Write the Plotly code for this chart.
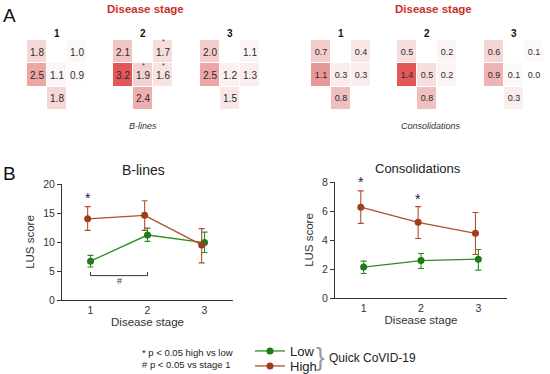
import plotly.graph_objects as go

W, H = 550, 374
FONT = "Arial, Liberation Sans, sans-serif"

# ---------------- data ----------------
stages = [1, 2, 3]
stage_labels = ["1", "2", "3"]

# Panel A heatmaps (3x3 lung zones, None = no zone)
blines_maps = [
    [[1.8, None, 1.0], [2.5, 1.1, 0.9], [None, 1.8, None]],
    [[2.1, None, 1.7], [3.2, 1.9, 1.6], [None, 2.4, None]],
    [[2.0, None, 1.1], [2.5, 1.2, 1.3], [None, 1.5, None]],
]
conso_maps = [
    [[0.7, None, 0.4], [1.1, 0.3, 0.3], [None, 0.8, None]],
    [[0.5, None, 0.2], [1.4, 0.5, 0.2], [None, 0.8, None]],
    [[0.6, None, 0.1], [0.9, 0.1, 0.0], [None, 0.3, None]],
]
# zones with star (stage 2, B-lines): (col,row)
blines_star_zones = [(2, 0), (1, 1), (2, 1)]

# Panel B line charts
blines_high = [14.0, 14.6, 9.5]
blines_high_up = [2.1, 2.5, 2.8]
blines_high_dn = [2.0, 2.6, 3.1]
blines_low = [6.7, 11.2, 9.9]
blines_low_up = [1.0, 1.2, 1.8]
blines_low_dn = [1.0, 1.1, 1.7]

conso_high = [6.26, 5.22, 4.46]
conso_high_up = [1.13, 1.08, 1.44]
conso_high_dn = [1.11, 1.12, 1.46]
conso_low = [2.13, 2.58, 2.68]
conso_low_up = [0.41, 0.49, 0.67]
conso_low_dn = [0.44, 0.55, 0.76]

blines_star_stage = [1]
blines_star_y = [17.6]
conso_star_stage = [1, 2]
conso_star_y = [8.0, 6.8]

bracket_x = [1, 1, 2, 2]
bracket_y = [4.8, 4.2, 4.2, 4.8]

# ---------------- helpers ----------------
def px(x):
    return x / W


def py(y):
    return 1 - y / H


HIGH_C = "#b0502a"
HIGH_M = "#a33c1c"
LOW_C = "#2e8b22"
LOW_M = "#1f7a1a"
TITLE_RED = "#c8302a"

cscale = [[0, "#ffffff"], [0.3, "#f9e6e6"], [0.5, "#f3cdcd"], [0.7, "#eca8a8"],
          [0.85, "#e78a8a"], [1, "#e25858"]]

fig = go.Figure()
layout = dict(
    width=W, height=H, margin=dict(l=0, r=0, t=0, b=0, autoexpand=False),
    paper_bgcolor="white", plot_bgcolor="white",
    font=dict(family=FONT, color="#222"),
    showlegend=True,
)
annotations = []


def note(x, y, text, size, color="#222", xanchor="center", ref=("paper", "paper"), **kw):
    d = dict(x=x, y=y, xref=ref[0], yref=ref[1], text=text, showarrow=False,
             xanchor=xanchor, yanchor="middle", font=dict(size=size, color=color, family=FONT))
    d.update(kw)
    annotations.append(d)


# heatmap axes pixel boxes
hm_boxes = [(27, 87), (113, 173), (200, 260), (311, 371), (397, 457), (484, 544)]
hm_top, hm_bot = 40, 110

maps = blines_maps + conso_maps
for i, z in enumerate(maps):
    ax = i + 1
    xa = "x" if ax == 1 else f"x{ax}"
    ya = "y" if ax == 1 else f"y{ax}"
    is_b = i < 3
    fig.add_trace(go.Heatmap(
        z=z, x=[0, 1, 2], y=[0, 1, 2], xaxis=xa, yaxis=ya,
        colorscale=cscale, zmin=0.8 if is_b else 0.0, zmax=3.2 if is_b else 1.4,
        showscale=False, xgap=1, ygap=1, hoverinfo="skip",
        texttemplate="%{z:.1f}", textfont=dict(size=10 if is_b else 9, color="#2a2a2a", family=FONT),
        showlegend=False,
    ))
    x0, x1 = hm_boxes[i]
    key = "" if ax == 1 else str(ax)
    layout[f"xaxis{key}"] = dict(domain=[px(x0), px(x1)], range=[-0.5, 2.5], visible=False,
                                 anchor=ya, fixedrange=True)
    layout[f"yaxis{key}"] = dict(domain=[py(hm_bot), py(hm_top)], range=[2.5, -0.5], visible=False,
                                 anchor=xa, fixedrange=True)
    note(px((x0 + x1) / 2), py(33), f"<b>{stage_labels[i % 3]}</b>", 10, "#111")

# stars in stage-2 B-lines map
for (c, r) in blines_star_zones:
    note(c, r, "*", 7, "#333", ref=("x2", "y2"), yshift=10)

# Panel A texts
note(px(9), py(15), "A", 19, "#111")
note(px(145), py(9), "<b>Disease stage</b>", 11.5, TITLE_RED)
note(px(433), py(9), "<b>Disease stage</b>", 11.5, TITLE_RED)
note(px(143), py(126), "<i>B-lines</i>", 9, "#333")
note(px(431), py(126), "<i>Consolidations</i>", 9, "#333")
note(px(9), py(173), "B", 19, "#111")

# ---------------- line charts ----------------
DODGE = 0.05


def add_series(xa, ya, vals, up, dn, color, mcolor, name, show, offset, legend):
    fig.add_trace(go.Scatter(
        x=[s + offset for s in stages], y=vals, xaxis=xa, yaxis=ya,
        mode="lines+markers", name=name, showlegend=show, legend=legend,
        line=dict(color=color, width=1.3),
        marker=dict(color=mcolor, size=7),
        error_y=dict(type="data", array=up, arrayminus=dn, color=color, thickness=1.1, width=3),
        hoverinfo="skip",
    ))


add_series("x7", "y7", blines_low, blines_low_up, blines_low_dn, LOW_C, LOW_M, "Low", True, 0.0, "legend")
add_series("x7", "y7", blines_high, blines_high_up, blines_high_dn, HIGH_C, HIGH_M, "High", True, -DODGE, "legend2")
add_series("x8", "y8", conso_low, conso_low_up, conso_low_dn, LOW_C, LOW_M, "Low", False, 0.0, "legend")
add_series("x8", "y8", conso_high, conso_high_up, conso_high_dn, HIGH_C, HIGH_M, "High", False, -DODGE, "legend2")

# bracket for "#"
fig.add_trace(go.Scatter(x=bracket_x, y=bracket_y, xaxis="x7", yaxis="y7", mode="lines",
                         line=dict(color="#333", width=1), showlegend=False, hoverinfo="skip"))
note(1.5, 3.3, "#", 9, "#333", ref=("x7", "y7"))
for s, yv in zip(blines_star_stage, blines_star_y):
    note(s - DODGE, yv, "*", 14, "#222", ref=("x7", "y7"))
for s, yv in zip(conso_star_stage, conso_star_y):
    note(s - DODGE, yv, "*", 14, "#222", ref=("x8", "y8"))

axis_common = dict(showline=True, linecolor="#333", linewidth=1, showgrid=False, zeroline=False,
                   tickfont=dict(size=10.5, color="#333", family=FONT), fixedrange=True)

layout["xaxis7"] = dict(axis_common, domain=[px(62), px(233)], range=[0.5, 3.5], anchor="y7",
                        tickvals=stages, ticktext=stage_labels, ticks="",
                        title=dict(text="Disease stage", font=dict(size=11.5, color="#333"), standoff=0))
layout["yaxis7"] = dict(axis_common, domain=[py(300), py(184)], range=[0, 20], anchor="x7",
                        tickvals=[0, 5, 10, 15, 20], ticks="outside", ticklen=4, tickcolor="#333",
                        title=dict(text="LUS score", font=dict(size=11.5, color="#333"), standoff=6))
layout["xaxis8"] = dict(axis_common, domain=[px(335), px(507)], range=[0.5, 3.5], anchor="y8",
                        tickvals=stages, ticktext=stage_labels, ticks="",
                        title=dict(text="Disease stage", font=dict(size=11.5, color="#333"), standoff=0))
layout["yaxis8"] = dict(axis_common, domain=[py(298), py(182)], range=[0, 8], anchor="x8",
                        tickvals=[0, 2, 4, 6, 8], ticks="outside", ticklen=4, tickcolor="#333",
                        title=dict(text="LUS score", font=dict(size=11.5, color="#333"), standoff=6))

note(px(143), py(170), "B-lines", 14, "#222")
note(px(418), py(168), "Consolidations", 13, "#222")
note(px(140), py(352), "* p < 0.05 high vs low", 9.5, "#222", xanchor="left")
note(px(140), py(364), "# p < 0.05 vs stage 1", 9.5, "#222", xanchor="left")
note(px(320), py(357), "}", 26, "#999")
note(px(327), py(358), "Quick CoVID-19", 12, "#222", xanchor="left")

leg_common = dict(xanchor="left", yanchor="middle", bgcolor="rgba(0,0,0,0)",
                  font=dict(size=13, color="#222", family=FONT), itemwidth=30)
layout["legend"] = dict(leg_common, x=px(250), y=py(351))
layout["legend2"] = dict(leg_common, x=px(250), y=py(366))
layout["annotations"] = annotations

fig.update_layout(**layout)
fig.write_html("out.html", config={"displayModeBar": False},
               post_script="document.body.style.margin='0';document.body.style.padding='0';")
